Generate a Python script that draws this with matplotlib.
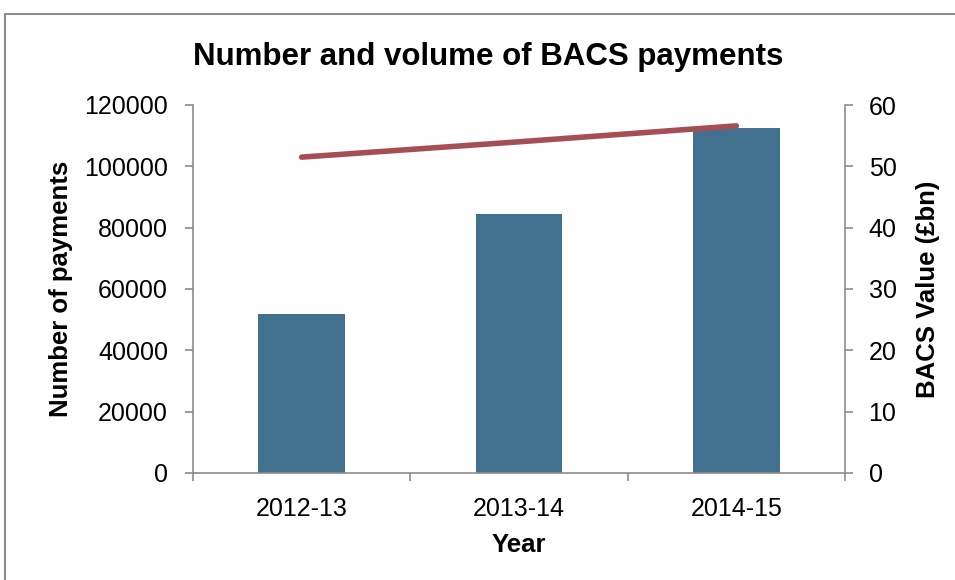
import matplotlib
matplotlib.use('Agg')
import matplotlib.pyplot as plt
from matplotlib.patches import Rectangle

years = ['2012-13', '2013-14', '2014-15']
num_payments = [52000, 84500, 112500]
bacs_value = [51.5, 54.0, 56.6]

plt.rcParams['font.family'] = ['Liberation Sans', 'DejaVu Sans']

bar_colour = '#41718F'
line_colour = '#A54F54'
grey = '#8C8C8C'

fig = plt.figure(figsize=(9.55, 5.8), dpi=100)
ax = fig.add_axes([193 / 955, 107 / 580, 652 / 955, 368 / 580])
ax2 = ax.twinx()

x = list(range(len(years)))
ax.bar(x, num_payments, width=0.4, color=bar_colour, zorder=2)
ax2.plot(x, bacs_value, color=line_colour, lw=4, solid_capstyle='round', zorder=3)

ax.set_xlim(-0.5, len(years) - 0.5)
ax.set_ylim(0, 120000)
ax.set_yticks(range(0, 120001, 20000))
ax2.set_ylim(0, 60)
ax2.set_yticks(range(0, 61, 10))

# category labels in the middle, tick marks on the boundaries (Excel style)
ax.set_xticks(x)
ax.set_xticklabels(years)
ax.tick_params(axis='x', length=0, labelsize=18, pad=17)
ax.set_xticks([i - 0.5 for i in range(len(years) + 1)], minor=True)
ax.tick_params(axis='x', which='minor', length=6, color=grey, width=1.2)

ax.tick_params(axis='y', labelsize=18, length=6, color=grey, width=1.2, pad=12)
ax2.tick_params(axis='y', labelsize=18, length=6, color=grey, width=1.2, pad=11)

for a in (ax, ax2):
    a.spines['top'].set_visible(False)
    for s in ('left', 'right', 'bottom'):
        a.spines[s].set_color(grey)
        a.spines[s].set_linewidth(1.2)
ax.spines['right'].set_visible(False)
ax2.spines['left'].set_visible(False)
ax2.spines['bottom'].set_visible(False)

ax.set_xlabel('Year', fontsize=18.5, fontweight='bold', labelpad=9)
ax.set_ylabel('Number of payments', fontsize=18.5, fontweight='bold', labelpad=8)
ax2.set_ylabel('BACS Value (£bn)', fontsize=18.5, fontweight='bold', labelpad=14)

fig.text(0.511, 1 - 57 / 580, 'Number and volume of BACS payments',
         ha='center', va='center', fontsize=22.5, fontweight='bold')

# chart frame
fig.patches.append(Rectangle((5 / 955, -0.1), 1.2, 1.1 - 14 / 580, transform=fig.transFigure,
                             fill=False, edgecolor=grey, lw=1.5))

fig.savefig('out.png', dpi=100)
